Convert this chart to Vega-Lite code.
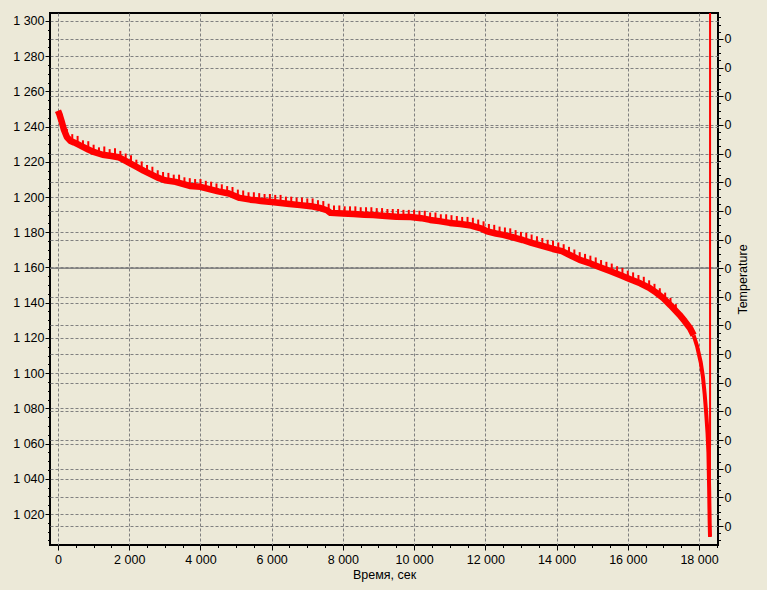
{
  "$schema": "https://vega.github.io/schema/vega-lite/v6.json",
  "width": 668,
  "height": 532,
  "autosize": {"type": "none"},
  "padding": {"left": 50, "top": 13, "right": 49, "bottom": 45},
  "background": "#ECE9D8",
  "config": {
    "view": {"stroke": "#000000", "strokeWidth": 2},
    "font": "Liberation Sans",
    "axis": {
      "labelFont": "Liberation Sans", "labelFontSize": 12.5, "labelColor": "#000000",
      "titleFont": "Liberation Sans", "titleFontSize": 12.5, "titleFontWeight": "normal", "titleColor": "#000000",
      "tickColor": "#000000", "domain": false,
      "gridColor": "#808080", "gridDash": [3, 2], "gridOpacity": 1, "gridWidth": 1
    }
  },
  "datasets": {
    "temp": [{"temp": 0}],
    "main": [
      {"t":0,"v":1249},{"t":40,"v":1247},{"t":100,"v":1243},{"t":170,"v":1238},{"t":250,"v":1234},
      {"t":340,"v":1232},{"t":450,"v":1231},{"t":550,"v":1230},{"t":700,"v":1228.5},{"t":850,"v":1227},
      {"t":1000,"v":1225.6},{"t":1250,"v":1224},{"t":1500,"v":1223.3},{"t":1700,"v":1222.6},{"t":1950,"v":1220},
      {"t":2200,"v":1217.2},{"t":2400,"v":1215},{"t":2600,"v":1213},{"t":2800,"v":1211},{"t":3000,"v":1209.5},
      {"t":3300,"v":1208.6},{"t":3500,"v":1207.5},{"t":3700,"v":1206.3},{"t":4000,"v":1205.8},{"t":4250,"v":1204.5},
      {"t":4500,"v":1203.2},{"t":4800,"v":1202},{"t":5100,"v":1199.5},{"t":5400,"v":1198.5},{"t":5700,"v":1197.8},
      {"t":6000,"v":1197.2},{"t":6250,"v":1196.6},{"t":6500,"v":1196},{"t":6800,"v":1195.4},{"t":7100,"v":1194.8},
      {"t":7350,"v":1193.8},{"t":7550,"v":1192.5},{"t":7650,"v":1191},{"t":8000,"v":1190.6},{"t":8300,"v":1190.3},
      {"t":8600,"v":1190},{"t":8850,"v":1189.8},{"t":9200,"v":1189.2},{"t":9500,"v":1188.8},{"t":9900,"v":1188.6},
      {"t":10200,"v":1188},{"t":10450,"v":1187},{"t":10700,"v":1186.3},{"t":11000,"v":1185.3},{"t":11300,"v":1184.7},
      {"t":11600,"v":1183.8},{"t":11900,"v":1182},{"t":12050,"v":1180.5},{"t":12300,"v":1179.3},{"t":12500,"v":1178.5},
      {"t":12800,"v":1177},{"t":13050,"v":1175.6},{"t":13300,"v":1174},{"t":13600,"v":1172.3},{"t":13900,"v":1170.5},
      {"t":14150,"v":1169.3},{"t":14400,"v":1166.8},{"t":14650,"v":1164.3},{"t":14950,"v":1162.3},{"t":15200,"v":1160.3},
      {"t":15500,"v":1158},{"t":15800,"v":1155.6},{"t":16050,"v":1153.5},{"t":16350,"v":1151},{"t":16600,"v":1148.5},
      {"t":16800,"v":1145.7},{"t":17000,"v":1142.5},{"t":17200,"v":1138.5},{"t":17450,"v":1133.2},{"t":17600,"v":1129.5},
      {"t":17750,"v":1125.5},{"t":17850,"v":1121.5}
    ],
    "drop": [
      {"t":17850,"v":1121.5},{"t":17950,"v":1115},{"t":18050,"v":1106},{"t":18110,"v":1098},
      {"t":18160,"v":1088},{"t":18200,"v":1078},{"t":18240,"v":1066},{"t":18265,"v":1055},{"t":18285,"v":1035},
      {"t":18300,"v":1015},{"t":18310,"v":1007}
    ],
    "tail": [{"t":18310,"v":1007},{"t":18312,"v":1350}],
    "spikes": [
      {"t":100,"s":1245.5},{"t":250,"s":1237},{"t":400,"s":1234},{"t":550,"s":1233},{"t":700,"s":1230.5},
      {"t":850,"s":1230},{"t":1000,"s":1228},{"t":1150,"s":1226.5},{"t":1300,"s":1227},{"t":1450,"s":1225.5},
      {"t":1600,"s":1226},{"t":1750,"s":1224.5},{"t":1900,"s":1223},{"t":2050,"s":1222},{"t":2200,"s":1219.5},
      {"t":2350,"s":1218.5},{"t":2500,"s":1216.5},{"t":2650,"s":1215.5},{"t":2800,"s":1213.5},{"t":2950,"s":1212.5},
      {"t":3100,"s":1212},{"t":3250,"s":1211},{"t":3400,"s":1211},{"t":3550,"s":1209.5},{"t":3700,"s":1209},
      {"t":3850,"s":1208.5},{"t":4000,"s":1208.5},{"t":4150,"s":1207.5},{"t":4300,"s":1207},{"t":4450,"s":1206},
      {"t":4600,"s":1205.5},{"t":4750,"s":1204.5},{"t":4900,"s":1204},{"t":5050,"s":1202.5},{"t":5200,"s":1202},
      {"t":5350,"s":1201},{"t":5500,"s":1201},{"t":5650,"s":1200.5},{"t":5800,"s":1200},{"t":5950,"s":1200},
      {"t":6100,"s":1199.5},{"t":6250,"s":1199.5},{"t":6400,"s":1198.5},{"t":6550,"s":1198.5},{"t":6700,"s":1198},
      {"t":6850,"s":1198},{"t":7000,"s":1197.5},{"t":7150,"s":1197.5},{"t":7300,"s":1196.5},{"t":7450,"s":1196},
      {"t":7600,"s":1194.5},{"t":7750,"s":1193.5},{"t":7900,"s":1193.5},{"t":8050,"s":1193},{"t":8200,"s":1193},
      {"t":8350,"s":1193},{"t":8500,"s":1192.5},{"t":8650,"s":1192.5},{"t":8800,"s":1192.5},{"t":8950,"s":1192},
      {"t":9100,"s":1192},{"t":9250,"s":1191.5},{"t":9400,"s":1191.5},{"t":9550,"s":1191.5},{"t":9700,"s":1191},
      {"t":9850,"s":1191},{"t":10000,"s":1191},{"t":10150,"s":1190.5},{"t":10300,"s":1190.5},{"t":10450,"s":1189.5},
      {"t":10600,"s":1189.5},{"t":10750,"s":1188.5},{"t":10900,"s":1188.5},{"t":11050,"s":1188},{"t":11200,"s":1187.5},
      {"t":11350,"s":1187},{"t":11500,"s":1187},{"t":11650,"s":1186.5},{"t":11800,"s":1185.5},{"t":11950,"s":1184.5},
      {"t":12100,"s":1183},{"t":12250,"s":1182.5},{"t":12400,"s":1181.5},{"t":12550,"s":1181},{"t":12700,"s":1180.5},
      {"t":12850,"s":1179.5},{"t":13000,"s":1178.5},{"t":13150,"s":1178},{"t":13300,"s":1177},{"t":13450,"s":1176},
      {"t":13600,"s":1175},{"t":13750,"s":1174},{"t":13900,"s":1173.5},{"t":14050,"s":1172.5},{"t":14200,"s":1171.5},
      {"t":14350,"s":1170},{"t":14500,"s":1168.5},{"t":14650,"s":1167},{"t":14800,"s":1166},{"t":14950,"s":1165},
      {"t":15100,"s":1164},{"t":15250,"s":1162.5},{"t":15400,"s":1161.5},{"t":15550,"s":1160.5},{"t":15700,"s":1159},
      {"t":15850,"s":1158},{"t":16000,"s":1156.5},{"t":16150,"s":1155.5},{"t":16300,"s":1154},{"t":16450,"s":1153},
      {"t":16600,"s":1151},{"t":16750,"s":1149},{"t":16900,"s":1146.5},{"t":17050,"s":1144},{"t":17200,"s":1141},
      {"t":17350,"s":1137.5}
    ]
  },
  "layer": [
    {
      "data": {"name": "temp"},
      "mark": {"type": "rule", "color": "#808080", "strokeWidth": 1},
      "encoding": {
        "y": {
          "field": "temp", "type": "quantitative",
          "scale": {"domain": [-9.663, 8.907]},
          "axis": {
            "orient": "right", "title": "Temperature", "titleAngle": 270,
            "titleX": 24, "titleY": 266, "titleAlign": "center", "titleBaseline": "middle",
            "values": [-9,-8,-7,-6,-5,-4,-3,-2,-1,0,1,2,3,4,5,6,7,8],
            "labelExpr": "'0'", "grid": true, "tickSize": 5, "labelPadding": 1
          }
        }
      }
    },
    {
      "data": {"name": "temp"},
      "mark": {"type": "rule", "color": "#808080", "strokeWidth": 1},
      "encoding": {
        "y": {
          "field": "temp", "type": "quantitative",
          "scale": {"domain": [-9.663, 8.907]},
          "axis": {
            "orient": "right", "title": null, "labels": false, "grid": false, "tickSize": 2.5,
            "values": [-9.5,-9.25,-9,-8.75,-8.5,-8.25,-8,-7.75,-7.5,-7.25,-7,-6.75,-6.5,-6.25,-6,-5.75,-5.5,-5.25,-5,-4.75,-4.5,-4.25,-4,-3.75,-3.5,-3.25,-3,-2.75,-2.5,-2.25,-2,-1.75,-1.5,-1.25,-1,-0.75,-0.5,-0.25,0,0.25,0.5,0.75,1,1.25,1.5,1.75,2,2.25,2.5,2.75,3,3.25,3.5,3.75,4,4.25,4.5,4.75,5,5.25,5.5,5.75,6,6.25,6.5,6.75,7,7.25,7.5,7.75,8,8.25,8.5,8.75]
          }
        }
      }
    },
    {
      "data": {"name": "spikes"},
      "mark": {"type": "tick", "orient": "vertical", "size": 6, "thickness": 2, "color": "#FF0000", "opacity": 1, "clip": true},
      "encoding": {
        "x": {
          "field": "t", "type": "quantitative",
          "scale": {"domain": [-225, 18534], "nice": false, "zero": false},
          "axis": {
            "orient": "bottom", "title": null, "labels": false, "grid": false, "tickSize": 2.5,
            "values": [500,1000,1500,2000,2500,3000,3500,4000,4500,5000,5500,6000,6500,7000,7500,8000,8500,9000,9500,10000,10500,11000,11500,12000,12500,13000,13500,14000,14500,15000,15500,16000,16500,17000,17500,18000,18500]
          }
        },
        "y": {
          "field": "s", "type": "quantitative",
          "scale": {"domain": [1002.4, 1304.5], "nice": false, "zero": false},
          "axis": {
            "orient": "left", "title": null, "labels": false, "grid": false, "tickSize": 2.5,
            "values": [1005,1010,1015,1020,1025,1030,1035,1040,1045,1050,1055,1060,1065,1070,1075,1080,1085,1090,1095,1100,1105,1110,1115,1120,1125,1130,1135,1140,1145,1150,1155,1160,1165,1170,1175,1180,1185,1190,1195,1200,1205,1210,1215,1220,1225,1230,1235,1240,1245,1250,1255,1260,1265,1270,1275,1280,1285,1290,1295,1300]
          }
        }
      }
    },
    {
      "data": {"name": "main"},
      "mark": {"type": "line", "color": "#FF0000", "strokeWidth": 6.5, "strokeJoin": "round", "clip": true},
      "encoding": {
        "x": {
          "field": "t", "type": "quantitative",
          "scale": {"domain": [-225, 18534], "nice": false, "zero": false},
          "axis": {
            "orient": "bottom", "title": "Время, сек", "titlePadding": 3,
            "values": [0,2000,4000,6000,8000,10000,12000,14000,16000,18000],
            "labelExpr": "replace(format(datum.value, ','), ',', ' ')",
            "grid": true, "tickSize": 5, "labelPadding": 3
          }
        },
        "y": {
          "field": "v", "type": "quantitative",
          "scale": {"domain": [1002.4, 1304.5], "nice": false, "zero": false},
          "axis": {
            "orient": "left", "title": null,
            "values": [1020,1040,1060,1080,1100,1120,1140,1160,1180,1200,1220,1240,1260,1280,1300],
            "labelExpr": "replace(format(datum.value, ','), ',', ' ')",
            "grid": true, "tickSize": 5, "labelPadding": 1
          }
        }
      }
    },
    {
      "data": {"name": "drop"},
      "mark": {"type": "line", "color": "#FF0000", "strokeWidth": 4, "strokeJoin": "round", "clip": true},
      "encoding": {
        "x": {"field": "t", "type": "quantitative", "scale": {"domain": [-225, 18534], "nice": false, "zero": false}, "axis": null},
        "y": {"field": "v", "type": "quantitative", "scale": {"domain": [1002.4, 1304.5], "nice": false, "zero": false}, "axis": null}
      }
    },
    {
      "data": {"name": "tail"},
      "mark": {"type": "line", "color": "#FF0000", "strokeWidth": 2, "clip": true},
      "encoding": {
        "x": {"field": "t", "type": "quantitative", "scale": {"domain": [-225, 18534], "nice": false, "zero": false}, "axis": null},
        "y": {"field": "v", "type": "quantitative", "scale": {"domain": [1002.4, 1304.5], "nice": false, "zero": false}, "axis": null}
      }
    }
  ],
  "resolve": {"scale": {"y": "independent"}, "axis": {"x": "independent", "y": "independent"}}
}
